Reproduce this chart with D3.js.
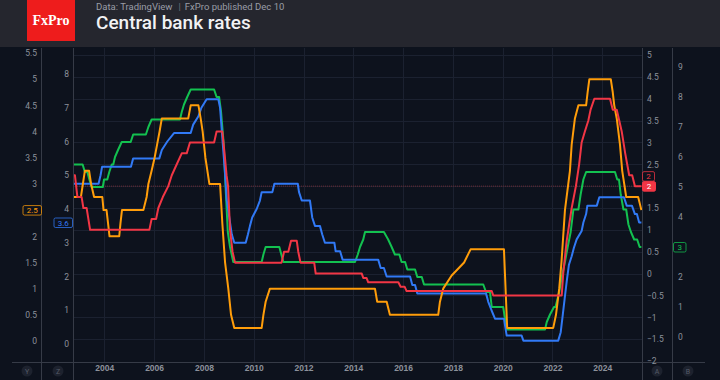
<!DOCTYPE html>
<html>
<head>
<meta charset="utf-8">
<script src="https://cdn.jsdelivr.net/npm/d3@7"></script>
<style>
	html, body { margin: 0; padding: 0; background: #0d121d; }
	svg { display: block; font-family: Roboto, "Noto Sans", sans-serif; }
</style>
</head>
<body>
<svg id="chart" width="720" height="380"></svg>
<script>
// policy rates, [decimal year, rate %]
// orange - left outer scale
const orangeRate = [
	[2002.74, 2.75], [2003.06, 2.75], [2003.22, 3.25], [2003.39, 3.25], [2003.47, 3.0], [2003.59, 2.75],
	[2003.92, 2.75], [2003.97, 2.5], [2004.09, 2.5], [2004.15, 2.25], [2004.21, 2.0], [2004.6, 2.0],
	[2004.65, 2.25], [2004.71, 2.5], [2005.57, 2.5], [2005.7, 2.75], [2005.77, 3.0], [2005.9, 3.25],
	[2006.02, 3.5], [2006.12, 3.75], [2006.22, 4.0], [2006.31, 4.25], [2007.37, 4.25], [2007.47, 4.5],
	[2007.78, 4.5], [2007.87, 4.25], [2007.95, 4.0], [2008.06, 3.5], [2008.22, 3.0], [2008.65, 3.0],
	[2008.74, 2.25], [2008.85, 1.5], [2008.98, 1.0], [2009.09, 0.5], [2009.22, 0.25], [2010.32, 0.25],
	[2010.39, 0.5], [2010.48, 0.75], [2010.65, 1.0], [2014.87, 1.0], [2014.96, 0.75], [2015.34, 0.75],
	[2015.47, 0.5], [2017.41, 0.5], [2017.48, 0.75], [2017.61, 1.0], [2017.95, 1.25], [2018.45, 1.5],
	[2018.71, 1.75], [2020.05, 1.75], [2020.18, 0.25], [2022.03, 0.25], [2022.14, 0.5], [2022.27, 1.0],
	[2022.36, 1.5], [2022.5, 2.5], [2022.7, 3.25], [2022.77, 3.75], [2022.9, 4.25], [2023.04, 4.5],
	[2023.35, 4.5], [2023.41, 4.75], [2023.48, 5.0], [2024.34, 5.0], [2024.42, 4.75], [2024.48, 4.5],
	[2024.58, 4.25], [2024.71, 3.75], [2024.8, 3.25], [2024.88, 3.0], [2024.96, 2.75], [2025.44, 2.75],
	[2025.57, 2.5],
];

// blue - left inner scale
const blueRate = [
	[2002.74, 4.75], [2003.77, 4.75], [2003.85, 5.0], [2003.91, 5.25], [2005.07, 5.25], [2005.16, 5.5],
	[2006.21, 5.5], [2006.31, 5.75], [2006.53, 6.0], [2006.8, 6.25], [2007.47, 6.25], [2007.57, 6.5],
	[2007.78, 6.75], [2007.9, 7.0], [2008.11, 7.25], [2008.58, 7.25], [2008.65, 7.0], [2008.75, 6.0],
	[2008.83, 5.25], [2008.92, 4.25], [2009.12, 3.25], [2009.22, 3.0], [2009.68, 3.0], [2009.77, 3.25],
	[2009.85, 3.5], [2009.94, 3.75], [2010.12, 4.0], [2010.25, 4.25], [2010.32, 4.5], [2010.75, 4.5],
	[2010.83, 4.75], [2011.77, 4.75], [2011.82, 4.5], [2011.93, 4.25], [2012.26, 4.25], [2012.35, 3.75],
	[2012.46, 3.5], [2012.66, 3.5], [2012.75, 3.25], [2012.86, 3.0], [2013.24, 3.0], [2013.29, 2.75],
	[2013.47, 2.75], [2013.57, 2.5], [2015.0, 2.5], [2015.1, 2.25], [2015.23, 2.25], [2015.34, 2.0],
	[2016.28, 2.0], [2016.37, 1.75], [2016.48, 1.75], [2016.57, 1.5], [2019.33, 1.5], [2019.42, 1.25],
	[2019.55, 1.0], [2019.69, 0.75], [2020.05, 0.75], [2020.16, 0.25], [2020.76, 0.25], [2020.83, 0.1],
	[2022.23, 0.1], [2022.33, 0.35], [2022.41, 0.85], [2022.49, 1.35], [2022.57, 1.85], [2022.66, 2.35],
	[2022.77, 2.6], [2022.86, 2.85], [2022.97, 3.1], [2023.17, 3.35], [2023.24, 3.6], [2023.35, 3.85],
	[2023.4, 4.1], [2023.78, 4.1], [2023.88, 4.35], [2024.87, 4.35], [2024.98, 4.1], [2025.19, 4.1],
	[2025.31, 3.85], [2025.39, 3.85], [2025.48, 3.6], [2025.57, 3.6],
];

// red - right inner scale
const redRate = [
	[2002.74, 2.25], [2002.82, 2.25], [2002.92, 1.75], [2003.09, 1.75], [2003.16, 1.5], [2003.29, 1.5],
	[2003.43, 1.0], [2005.81, 1.0], [2005.9, 1.25], [2006.08, 1.25], [2006.17, 1.5], [2006.35, 1.75],
	[2006.57, 2.0], [2006.71, 2.25], [2006.91, 2.5], [2007.11, 2.75], [2007.31, 2.75], [2007.44, 3.0],
	[2008.41, 3.0], [2008.51, 3.25], [2008.74, 3.25], [2008.83, 2.75], [2008.91, 2.25], [2008.97, 2.0],
	[2009.05, 1.0], [2009.15, 0.5], [2009.25, 0.25], [2011.12, 0.25], [2011.22, 0.5], [2011.39, 0.5],
	[2011.5, 0.75], [2011.73, 0.75], [2011.79, 0.5], [2011.88, 0.25], [2012.43, 0.25], [2012.49, 0.0],
	[2014.34, 0.0], [2014.4, -0.1], [2014.53, -0.1], [2014.6, -0.2], [2015.81, -0.2], [2015.9, -0.3],
	[2016.06, -0.3], [2016.14, -0.4], [2019.56, -0.4], [2019.62, -0.5], [2022.37, -0.5], [2022.43, 0.0],
	[2022.57, 0.75], [2022.77, 1.5], [2022.94, 2.0], [2023.07, 2.5], [2023.17, 3.0], [2023.3, 3.25],
	[2023.44, 3.5], [2023.53, 3.75], [2023.68, 4.0], [2024.31, 4.0], [2024.42, 3.75], [2024.58, 3.75],
	[2024.68, 3.5], [2024.78, 3.25], [2024.85, 3.0], [2024.92, 2.75], [2025.0, 2.5], [2025.08, 2.25],
	[2025.2, 2.25], [2025.31, 2.0], [2025.57, 2.0],
];

// green - right outer scale
const greenRate = [
	[2002.74, 5.75], [2003.13, 5.75], [2003.22, 5.5], [2003.32, 5.5], [2003.4, 5.25], [2003.49, 5.0],
	[2003.94, 5.0], [2003.99, 5.25], [2004.12, 5.25], [2004.2, 5.5], [2004.3, 5.75], [2004.36, 5.75],
	[2004.43, 6.0], [2004.56, 6.25], [2004.7, 6.5], [2005.06, 6.5], [2005.16, 6.75], [2005.67, 6.75],
	[2005.77, 7.0], [2005.9, 7.25], [2007.04, 7.25], [2007.11, 7.5], [2007.2, 7.75], [2007.33, 8.0],
	[2007.47, 8.25], [2008.41, 8.25], [2008.51, 8.0], [2008.61, 8.0], [2008.69, 7.5], [2008.79, 6.5],
	[2008.87, 5.0], [2008.96, 3.5], [2009.05, 3.0], [2009.18, 2.5], [2010.32, 2.5], [2010.39, 2.75],
	[2010.48, 3.0], [2011.03, 3.0], [2011.19, 2.5], [2014.07, 2.5], [2014.18, 2.75], [2014.27, 3.0],
	[2014.4, 3.25], [2014.47, 3.5], [2015.23, 3.5], [2015.4, 3.25], [2015.54, 3.0], [2015.67, 2.75],
	[2015.85, 2.75], [2015.94, 2.5], [2016.08, 2.5], [2016.17, 2.25], [2016.48, 2.25], [2016.57, 2.0],
	[2016.75, 2.0], [2016.84, 1.75], [2019.22, 1.75], [2019.33, 1.5], [2019.49, 1.5], [2019.56, 1.0],
	[2020.02, 1.0], [2020.16, 0.25], [2021.7, 0.25], [2021.77, 0.5], [2021.9, 0.75], [2022.06, 1.0],
	[2022.12, 1.0], [2022.27, 1.5], [2022.37, 2.0], [2022.5, 2.5], [2022.61, 3.0], [2022.73, 3.5],
	[2022.84, 4.25], [2023.04, 4.25], [2023.13, 4.75], [2023.24, 5.25], [2023.35, 5.5], [2024.51, 5.5],
	[2024.6, 5.25], [2024.67, 5.25], [2024.74, 4.75], [2024.85, 4.25], [2024.96, 4.25], [2025.05, 3.75],
	[2025.15, 3.5], [2025.28, 3.25], [2025.4, 3.25], [2025.5, 3.0], [2025.57, 3.0],
];

const yearTicks = [2004, 2006, 2008, 2010, 2012, 2014, 2016, 2018, 2020, 2022, 2024];
const orangeTicks = [0, 0.5, 1, 1.5, 2, 2.5, 3, 3.5, 4, 4.5, 5, 5.5];
const blueTicks = [0, 1, 2, 3, 4, 5, 6, 7, 8];
const redTicks = [-2, -1.5, -1, -0.5, 0, 0.5, 1, 1.5, 2, 2.5, 3, 3.5, 4, 4.5, 5];
const greenTicks = [0, 1, 2, 3, 4, 5, 6, 7, 8, 9];
const lastLabels = { orange: "2.5", blue: "3.6", red: "2", green: "3" };

const COLORS = {
	orange: "#ff9d0a",
	blue: "#3179f5",
	red: "#f23645",
	green: "#13c150",
	bg: "#0d121d",
	header: "#25262e",
	grid: "#1b2130",
	axisLine: "#363b47",
	text: "#8c919b",
};

const plot = { left: 73, right: 642, top: 48, bottom: 363 };

const svg = d3.select("#chart");

const x = d3.scaleLinear().domain([2004, 2024]).range([104.3, 602.3]);
const yOrange = d3.scaleLinear().domain([0, 5.5]).range([341, 53]);
const yBlue = d3.scaleLinear().domain([0, 8]).range([344, 74]);
const yRed = d3.scaleLinear().domain([-2, 5]).range([361, 55]);
const yGreen = d3.scaleLinear().domain([0, 9]).range([337, 67]);

const fmt = (v) => d3.format("~g")(v).replace("-", "\u2212");

// backgrounds
svg.append("rect").attr("width", 720).attr("height", 380).attr("fill", COLORS.bg);
svg.append("rect").attr("width", 720).attr("height", 47).attr("fill", COLORS.header);

// header
svg.append("rect")
	.attr("x", 27).attr("y", 0).attr("width", 48).attr("height", 41)
	.attr("fill", "#ee1c1c");
svg.append("text")
	.attr("x", 51).attr("y", 25)
	.attr("text-anchor", "middle")
	.attr("fill", "#fff")
	.style("font-family", "'Liberation Serif', 'DejaVu Serif', serif")
	.style("font-weight", 700)
	.style("font-size", "14px")
	.text("FxPro");

const sub = svg.append("text")
	.attr("x", 96).attr("y", 9.5)
	.attr("fill", "#9a9da6")
	.style("font-size", "9.5px");
sub.append("tspan").text("Data: TradingView");
sub.append("tspan").attr("dx", 6).attr("fill", "#6b6e78").text("|");
sub.append("tspan").attr("dx", 4).text("FxPro published Dec 10");

svg.append("text")
	.attr("x", 96).attr("y", 29)
	.attr("fill", "#f2f2f4")
	.style("font-size", "19px")
	.style("font-weight", 500)
	.text("Central bank rates");

// grid
const grid = svg.append("g");
grid.selectAll(".hgrid")
	.data(redTicks.filter((d) => d > -2))
	.join("line")
	.attr("x1", plot.left).attr("x2", plot.right)
	.attr("y1", (d) => Math.round(yRed(d)) + 0.5)
	.attr("y2", (d) => Math.round(yRed(d)) + 0.5)
	.attr("stroke", COLORS.grid);
grid.selectAll(".vgrid")
	.data(yearTicks)
	.join("line")
	.attr("x1", (d) => Math.round(x(d)) + 0.5)
	.attr("x2", (d) => Math.round(x(d)) + 0.5)
	.attr("y1", plot.top).attr("y2", plot.bottom)
	.attr("stroke", COLORS.grid);

// last-price line of the red series
svg.append("line")
	.attr("x1", plot.left).attr("x2", plot.right)
	.attr("y1", yRed(2)).attr("y2", yRed(2))
	.attr("stroke", "#6e2a34")
	.attr("stroke-dasharray", "1,1");

// series
svg.append("clipPath").attr("id", "clip")
	.append("rect")
	.attr("x", plot.left).attr("y", plot.top)
	.attr("width", plot.right - plot.left).attr("height", plot.bottom - plot.top);

const lines = svg.append("g").attr("clip-path", "url(#clip)");
const seriesList = [
	{ data: greenRate, y: yGreen, color: COLORS.green },
	{ data: blueRate, y: yBlue, color: COLORS.blue },
	{ data: orangeRate, y: yOrange, color: COLORS.orange },
	{ data: redRate, y: yRed, color: COLORS.red },
];
seriesList.forEach((s) => {
	lines.append("path")
		.datum(s.data)
		.attr("fill", "none")
		.attr("stroke", s.color)
		.attr("stroke-width", 2)
		.attr("stroke-linejoin", "round")
		.attr("d", d3.line().x((d) => x(d[0])).y((d) => s.y(d[1])));
});

// axis separators
[41, 73, 642, 672].forEach((xx) => {
	svg.append("line")
		.attr("x1", xx + 0.5).attr("x2", xx + 0.5)
		.attr("y1", plot.top).attr("y2", 380)
		.attr("stroke", COLORS.axisLine);
});
svg.append("line")
	.attr("x1", 12).attr("x2", 705)
	.attr("y1", 362.5).attr("y2", 362.5)
	.attr("stroke", COLORS.axisLine);

// price axes
function priceAxis(scale, ticks, xPos, orient) {
	const axis = (orient === "left" ? d3.axisLeft(scale) : d3.axisRight(scale))
		.tickValues(ticks)
		.tickSize(0)
		.tickPadding(0)
		.tickFormat(fmt);
	const g = svg.append("g")
		.attr("transform", `translate(${xPos},0)`)
		.call(axis);
	g.select(".domain").remove();
	g.selectAll("text")
		.attr("fill", COLORS.text)
		.style("font-size", "8.5px")
		.style("font-family", "Roboto, sans-serif");
}
priceAxis(yOrange, orangeTicks.filter((d) => d !== 2.5), 37, "left");
priceAxis(yBlue, blueTicks, 69, "left");
priceAxis(yRed, redTicks.filter((d) => d !== 2), 647, "right");
priceAxis(yGreen, greenTicks.filter((d) => d !== 3), 678, "right");

// time axis
const timeAxis = svg.append("g")
	.attr("transform", "translate(0,365)")
	.call(d3.axisBottom(x).tickValues(yearTicks).tickSize(0).tickPadding(0).tickFormat(d3.format("d")));
timeAxis.select(".domain").remove();
timeAxis.selectAll("text")
	.attr("dy", "0.71em")
	.attr("fill", COLORS.text)
	.style("font-size", "8.5px")
	.style("font-weight", 600);

// scale badges at the bottom corners
[["Y", 27], ["Z", 58], ["A", 657], ["B", 688]].forEach(([label, cx]) => {
	svg.append("circle")
		.attr("cx", cx).attr("cy", 371).attr("r", 5.5)
		.attr("fill", "#1d222e");
	svg.append("text")
		.attr("x", cx).attr("y", 373.5)
		.attr("text-anchor", "middle")
		.attr("fill", "#555b68")
		.style("font-size", "7px")
		.text(label);
});

// last value tags
function tag(xLeft, w, yc, text, color, filled) {
	svg.append("rect")
		.attr("x", xLeft + 0.5).attr("y", yc - 4.5)
		.attr("width", w).attr("height", 9.5)
		.attr("rx", 1.5)
		.attr("fill", filled ? color : COLORS.bg)
		.attr("stroke", color)
		.attr("stroke-opacity", filled ? 1 : 0.75);
	svg.append("text")
		.attr("x", xLeft + 0.5 + w / 2).attr("y", yc + 3)
		.attr("text-anchor", "middle")
		.attr("fill", filled ? "#fff" : color)
		.style("font-size", "8px")
		.text(text);
}
tag(22.5, 18.5, yOrange(+lastLabels.orange), lastLabels.orange, COLORS.orange, false);
tag(53.5, 18.5, yBlue(+lastLabels.blue), lastLabels.blue, COLORS.blue, false);
tag(642, 12, yRed(+lastLabels.red) - 10, lastLabels.red, COLORS.red, false);
tag(642, 13, yRed(+lastLabels.red), lastLabels.red, COLORS.red, true);
tag(673, 12.5, yGreen(+lastLabels.green), lastLabels.green, COLORS.green, false);
</script>
</body>
</html>
